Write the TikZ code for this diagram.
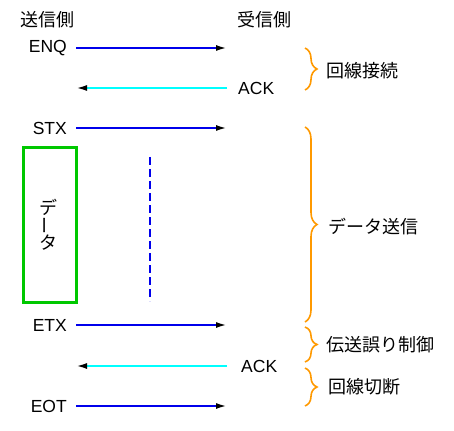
\documentclass[tikz,border=0pt]{standalone}
\usepackage{fontspec}
\setmainfont{Liberation Sans}
\newfontfamily\jp{Noto Sans CJK JP}
\usetikzlibrary{arrows.meta,decorations.pathreplacing}
\definecolor{msgblue}{RGB}{0,0,235}
\definecolor{msgcyan}{RGB}{0,255,255}
\definecolor{boxgreen}{RGB}{0,200,0}
\definecolor{braceorange}{RGB}{255,153,0}
\begin{document}
\begin{tikzpicture}[x=1pt,y=-1pt,
  lat/.style={font=\fontsize{17.5}{17.5}\selectfont, inner sep=0pt},
  jpl/.style={font=\jp\fontsize{18}{18}\selectfont, inner sep=0pt},
  tip/.style={-{Latex[length=11pt,width=6pt,color=black]}},
  fwd/.style={draw=msgblue, line width=2pt, tip},
  bwd/.style={draw=msgcyan, line width=2pt, tip},
  brc/.style={draw=braceorange, line width=1.6pt, decorate, decoration={brace, amplitude=12pt}},
]
\useasboundingbox (0,0) rectangle (454,430);
% headers
\node[jpl, anchor=west] (snd) at (20,20) {送信側};
\node[jpl, anchor=west] (rcv) at (237,20) {受信側};
% sender labels
\node[lat, anchor=east] (enq) at (67,48) {ENQ};
\node[lat, anchor=east] (stx) at (67,128) {STX};
\node[lat, anchor=east] (etx) at (67,325) {ETX};
\node[lat, anchor=east] (eot) at (67,406) {EOT};
% receiver labels
\node[lat, anchor=west] (ack1) at (238,88) {ACK};
\node[lat, anchor=west] (ack2) at (241,366) {ACK};
% arrow endpoints
\coordinate (s1) at (76,48);  \coordinate (r1) at (227,48);
\coordinate (s2) at (76,88);  \coordinate (r2) at (227,88);
\coordinate (s3) at (76,128); \coordinate (r3) at (227,128);
\coordinate (s4) at (76,325); \coordinate (r4) at (227,325);
\coordinate (s5) at (76,366); \coordinate (r5) at (227,366);
\coordinate (s6) at (76,406); \coordinate (r6) at (227,406);
\draw[fwd] (s1) -- (r1);
\draw[bwd] (r2) -- (s2);
\draw[fwd] (s3) -- (r3);
\draw[fwd] (s4) -- (r4);
\draw[bwd] (r5) -- (s5);
\draw[fwd] (s6) -- (r6);
% data box
\node[draw=boxgreen, line width=3pt, minimum width=52.5pt, minimum height=154pt, inner sep=0pt] (box) at (49.75,225) {};
\node[jpl] (d1) at (48,207) {デ};
\node[jpl, rotate=90] (d2) at (48,225) {ー};
\node[jpl] (d3) at (48,243) {タ};
% dashed line
\coordinate (dt) at (150,157);
\coordinate (db) at (150,301);
\draw[msgblue, line width=2pt, dash pattern=on 8pt off 4pt] (dt) -- (db);
% braces
\coordinate (b1a) at (305,48);  \coordinate (b1b) at (305,90);
\coordinate (b2a) at (305,127); \coordinate (b2b) at (305,322);
\coordinate (b3a) at (305,327); \coordinate (b3b) at (305,362);
\coordinate (b4a) at (305,368); \coordinate (b4b) at (305,406);
\draw[brc] (b1a) -- (b1b);
\draw[brc] (b2a) -- (b2b);
\draw[brc] (b3a) -- (b3b);
\draw[brc] (b4a) -- (b4b);
\node[jpl, anchor=west] (l1) at (326,71) {回線接続};
\node[jpl, anchor=west] (l2) at (328,227) {データ送信};
\node[jpl, anchor=west] (l3) at (326,345) {伝送誤り制御};
\node[jpl, anchor=west] (l4) at (328,387) {回線切断};
\end{tikzpicture}
\end{document}
